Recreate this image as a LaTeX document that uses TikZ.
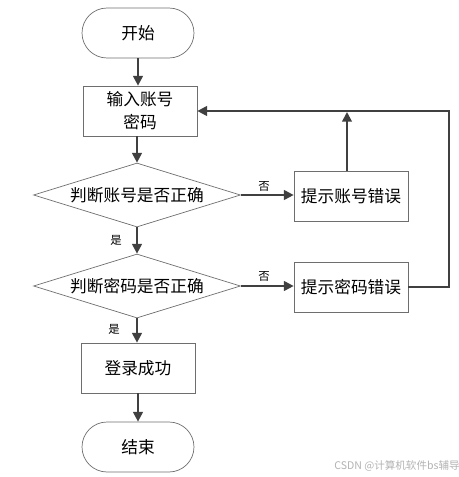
\documentclass[tikz,border=0pt]{standalone}
\usepackage{fontspec}
\setmainfont{Noto Sans CJK SC}
\usetikzlibrary{arrows.meta,shapes.geometric}
\definecolor{linegray}{HTML}{404040}
\definecolor{boxgray}{HTML}{6E6E6E}
\begin{document}
\begin{tikzpicture}[
	x=0.02cm, y=-0.02cm,
	terminal/.style={ draw=boxgray, rounded corners=0.5cm, minimum width=2.24cm, minimum height=1cm, inner sep=0pt, font=\fontsize{9.5}{11}\selectfont },
	process/.style={ draw=boxgray, minimum width=2.28cm, minimum height=1cm, inner sep=0pt, align=center, font=\fontsize{9.5}{13}\selectfont },
	decision/.style={ draw=boxgray, diamond, aspect=3.2, minimum width=4.14cm, minimum height=1.28cm, inner sep=0pt, font=\fontsize{9.5}{11}\selectfont },
	flow/.style={ draw=linegray, line width=1.1pt, -{Triangle[length=5.5pt,width=5.5pt]} },
	branch/.style={ font=\fontsize{6.5}{7}\selectfont }
]
	\useasboundingbox (0,0) rectangle (458,477);
	\node at (138,33) (start) [terminal] {开始};
	\node at (140,111) (input) [process] {输入账号\\密码};
	\node at (137,195) (chkuser) [decision] {判断账号是否正确};
	\node at (351,196) (erruser) [process] {提示账号错误};
	\node at (137,286) (chkpwd) [decision] {判断密码是否正确};
	\node at (351,287) (errpwd) [process] {提示密码错误};
	\node at (138,368) (ok) [process] {登录成功};
	\node at (138,447) (stop) [terminal] {结束};
	\coordinate (corner) at (449,111);
	\draw[flow] (start) -- (input.north -| start);
	\draw[flow] (input.south -| chkuser) -- (chkuser.north);
	\draw[flow] (chkuser.east) -- (erruser.west |- chkuser.east);
	\draw[flow] (chkuser.south) -- (chkpwd.north);
	\draw[flow] (chkpwd.east) -- (errpwd.west |- chkpwd.east);
	\draw[flow] (chkpwd.south) -- (ok.north -| chkpwd);
	\draw[flow] (ok) -- (stop);
	\draw[flow] (erruser.north -| 347,0) -- (347,112);
	\draw[flow] (errpwd.east) -| (corner) -- (input.east);
	\node at (264,186) (no1) [branch] {否};
	\node at (264,276) (no2) [branch] {否};
	\node at (116,240) (yes1) [branch] {是};
	\node at (114,329) (yes2) [branch] {是};
	\node at (397,466) (mark) [font=\fontsize{6}{7}\selectfont, text=black!30] {CSDN @计算机软件bs辅导};
\end{tikzpicture}
\end{document}
